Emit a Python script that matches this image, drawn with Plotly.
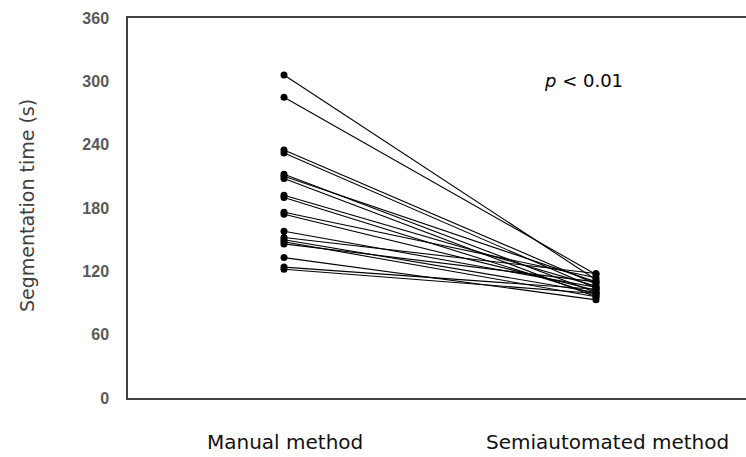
import plotly.graph_objects as go

categories = ["Manual method", "Semiautomated method"]
manual = [306, 285, 235, 232, 212, 210, 208, 192, 190, 176, 174, 158, 152, 150, 148, 146, 133, 124, 122]
semi = [112, 117, 108, 104, 100, 110, 96, 106, 98, 114, 102, 105, 118, 100, 96, 110, 93, 103, 99]
y_ticks = [0, 60, 120, 180, 240, 300, 360]

fig = go.Figure()
for m, s in zip(manual, semi):
    fig.add_trace(go.Scatter(
        x=[0, 1], y=[m, s], mode="lines+markers",
        line=dict(color="black", width=1.1),
        marker=dict(color="black", size=7),
        showlegend=False, hoverinfo="skip"))

fig.add_annotation(x=0.96, y=301, xref="x", yref="y",
                   text="<i>p</i> < 0.01", showarrow=False,
                   font=dict(family="DejaVu Sans", size=18, color="black"))

fig.add_annotation(x=-0.1634, y=0.505, xref="paper", yref="paper",
                   text="Segmentation time (s)", showarrow=False, textangle=-90,
                   xanchor="center", yanchor="middle",
                   font=dict(family="DejaVu Sans", size=19, color="#404040"))

# category labels (Excel-style placement below the axis)
label_x = [0.003, 1.038]
for cx, name in zip(label_x, categories):
    fig.add_annotation(x=cx, y=-0.116, xref="x", yref="paper",
                       text=name, showarrow=False, xanchor="center", yanchor="middle",
                       font=dict(family="DejaVu Sans", size=20, color="#111111"))

fig.update_layout(
    width=746, height=457,
    margin=dict(l=128, r=0, t=18, b=59),
    paper_bgcolor="white", plot_bgcolor="white",
    xaxis=dict(range=[-0.5, 1.4808], showticklabels=False,
               showgrid=False, zeroline=False, showline=True, mirror=True,
               linecolor="#404040", linewidth=1.5, ticks=""),
    yaxis=dict(range=[0, 360], tickmode="array", tickvals=y_ticks,
               showgrid=False, zeroline=False, showline=True,
               linecolor="#404040", linewidth=1.5, ticks="",
               ticklabelstandoff=14,
               tickfont=dict(family="Liberation Sans", size=16, color="#595959", weight="bold")),
)

fig.write_html("out.html", config={"displayModeBar": False},
               post_script="document.body.style.margin='0';document.body.style.padding='0';")
